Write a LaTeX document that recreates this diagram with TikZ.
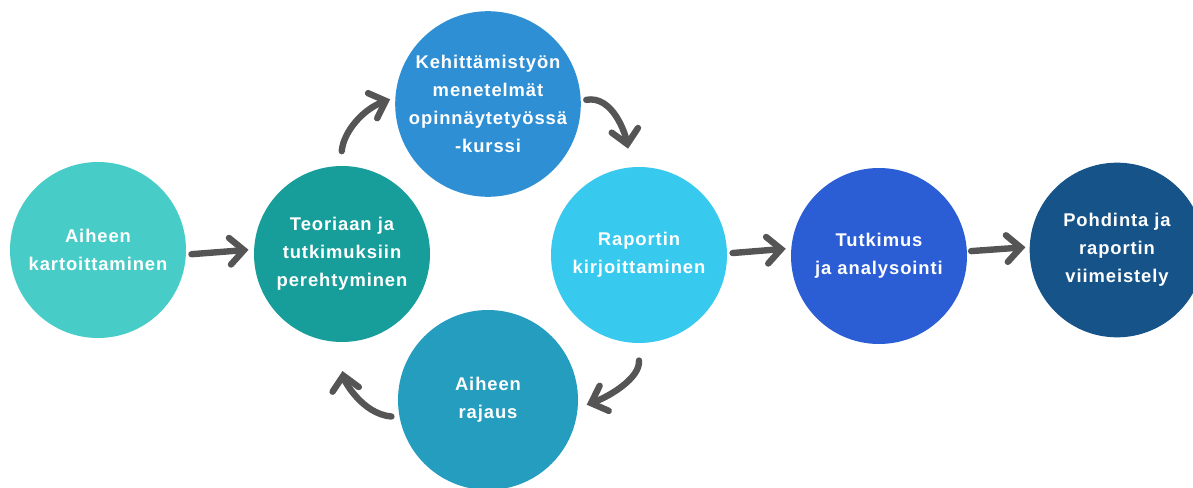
\documentclass[tikz,border=0pt]{standalone}
\usepackage{fontspec}
\setmainfont{Liberation Sans}
\newfontfamily\vaihefont[LetterSpace=5]{Liberation Sans}
\usepackage{xcolor}
\usetikzlibrary{arrows.meta, calc, positioning}

\definecolor{kartoitusvari}{HTML}{48CCC8}
\definecolor{teoriavari}{HTML}{179E9A}
\definecolor{kurssivari}{HTML}{2E8FD5}
\definecolor{raporttivari}{HTML}{38C9EE}
\definecolor{rajausvari}{HTML}{259DBE}
\definecolor{tutkimusvari}{HTML}{2B5DD5}
\definecolor{pohdintavari}{HTML}{155389}
\definecolor{nuolivari}{HTML}{555555}

\tikzset{
    vaihe/.style={circle, minimum size=132pt, inner sep=0pt, align=center, text=white,
        font=\vaihefont\bfseries\fontsize{13.8}{21}\selectfont},
    nuoli/.style={draw=nuolivari, line width=4.8pt, line cap=round,
        -{Straight Barb[length=10.5pt, width=20pt, line cap=round]}}
}

\begin{document}
\begin{tikzpicture}[x=0.75pt, y=0.75pt]
    \useasboundingbox (0,0) rectangle (1193,487);

    % vaiheet
    \node[vaihe, fill=kartoitusvari] (kartoitus) at (98,237) {Aiheen\\kartoittaminen};
    \node[vaihe, fill=teoriavari] (teoria) at (342,233) {Teoriaan ja\\tutkimuksiin\\perehtyminen};
    \node[vaihe, fill=kurssivari, minimum size=136pt] (kurssi) at (488,383)
        {Kehittämistyön\\menetelmät\\opinnäytetyössä\\-kurssi};
    \node[vaihe, fill=raporttivari] (raportti) at (639,232) {Raportin\\kirjoittaminen};
    \node[vaihe, fill=rajausvari, minimum size=135pt] (rajaus) at (488,87) {Aiheen\\rajaus};
    \node[vaihe, fill=tutkimusvari] (tutkimus) at (879,231) {Tutkimus\\ja analysointi};
    \node[vaihe, fill=pohdintavari, minimum size=131pt] (pohdinta) at (1117,237)
        {Pohdinta ja\\raportin\\viimeistely};

    % suorat nuolet
    \draw[nuoli, shorten <=4pt, shorten >=4pt] (kartoitus.-3) -- (teoria.177);
    \draw[nuoli, shorten <=4pt, shorten >=4pt] (raportti.1) -- (tutkimus.175);
    \draw[nuoli, shorten <=3pt, shorten >=3pt] (tutkimus.3) -- (pohdinta.178);

    % kierto
    \draw[nuoli, shorten <=11pt, shorten >=4pt] (teoria.91) to[out=85, in=200] (kurssi.176);
    \draw[nuoli, shorten <=4pt, shorten >=14pt] (kurssi.2) to[out=10, in=100] (raportti.95);
    \draw[nuoli, shorten <=13pt, shorten >=7pt] (raportti.269) to[out=-85, in=20] (rajaus.-5);
    \draw[nuoli, shorten <=6pt, shorten >=22pt] (rajaus.191) to[out=175, in=-80] (teoria.267);
\end{tikzpicture}
\end{document}
